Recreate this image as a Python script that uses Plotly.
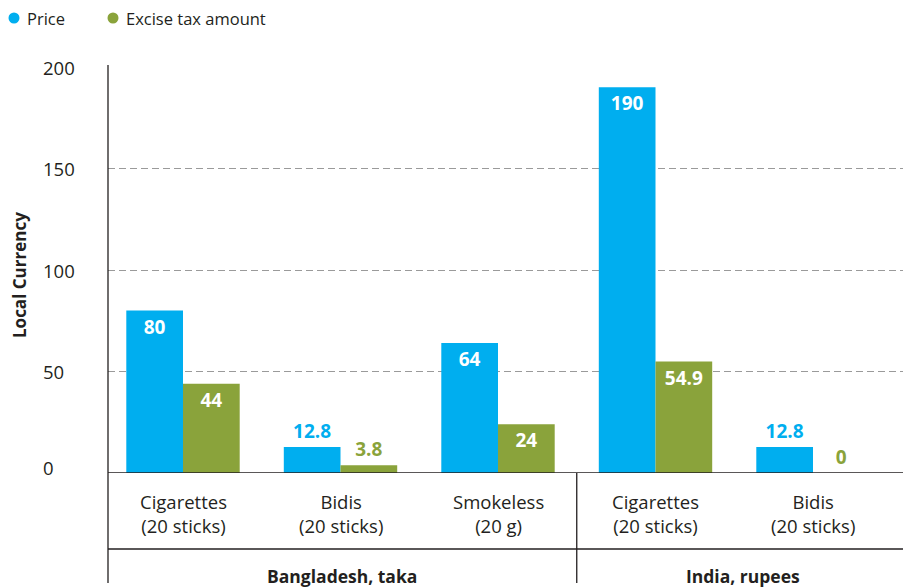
import plotly.graph_objects as go

products = ["Cigarettes<br>(20 sticks)", "Bidis<br>(20 sticks)", "Smokeless<br>(20 g)",
            "Cigarettes<br>(20 sticks)", "Bidis<br>(20 sticks)"]
groups = ["Bangladesh, taka", "India, rupees"]
group_spans = [(0, 2), (3, 4)]
price = [80, 12.8, 64, 190, 12.8]
excise = [44, 3.8, 24, 54.9, 0]
yticks = [0, 50, 100, 150, 200]

BLUE = "#00AEEF"
GREEN = "#8AA33B"
TXT = "#231f20"
FONT = "Open Sans"
OFF = 8  # page body margin
W, H = 911 - OFF, 588 - OFF
L, R, T = 108 - OFF, 0, 67 - OFF
B = H - (473 - OFF)
PW = W - L - R
PH = H - T - B

def fx(pix):  # reference pixel x -> paper
    return (pix - OFF - L) / PW

def fy(pix):  # reference pixel y -> paper
    return (H - B - (pix - OFF)) / PH

xs = list(range(len(products)))

def pos(vals):
    return ["inside" if v >= 20 else "outside" for v in vals]

fig = go.Figure()
for vals, name, col in [(price, "Price", BLUE), (excise, "Excise tax amount", GREEN)]:
    fig.add_trace(go.Bar(
        x=xs, y=vals, name=name, marker_color=col, marker_line_width=0,
        text=[f"{v:g}" for v in vals], textposition=pos(vals),
        insidetextanchor="end", textangle=0,
        insidetextfont=dict(color="white", size=19, family=FONT, weight="bold"),
        outsidetextfont=dict(color=col, size=19, family=FONT, weight="bold"),
        cliponaxis=False, showlegend=False,
    ))

x0 = -(183 - 108) / 157.5
x1 = x0 + PW / 157.5

fig.update_layout(
    width=W, height=H,
    margin=dict(l=L, r=R, t=T, b=B),
    paper_bgcolor="white", plot_bgcolor="white",
    barmode="group", bargap=0.28, bargroupgap=0,
    font=dict(family=FONT, size=16, color=TXT),
    xaxis=dict(range=[x0, x1], showticklabels=False, showgrid=False,
               zeroline=False, showline=False, ticks=""),
    yaxis=dict(range=[0, 200], showticklabels=False, tickvals=yticks,
               showgrid=True, gridcolor="#9a9a9a", griddash="7px,4px", gridwidth=1,
               zeroline=False, showline=False, ticks=""),
)

LINE = dict(color=TXT, width=1.3)
shapes = []
shapes.append(dict(type="line", xref="paper", yref="paper", x0=0, x1=0,
                   y0=fy(583), y1=fy(65), line=LINE))
shapes.append(dict(type="line", xref="paper", yref="y", x0=0, x1=1,
                   y0=0, y1=0, line=LINE))
shapes.append(dict(type="line", xref="paper", yref="paper", x0=0, x1=1,
                   y0=fy(549), y1=fy(549), line=LINE))
for a, b in group_spans[:-1]:
    shapes.append(dict(type="line", xref="x", yref="paper", x0=b + 0.5, x1=b + 0.5,
                       y0=fy(583), y1=0, line=LINE))
for cx, col in [(14, BLUE), (113, GREEN)]:
    shapes.append(dict(type="circle", xref="paper", yref="paper",
                       xsizemode="pixel", ysizemode="pixel",
                       xanchor=fx(cx), yanchor=fy(18),
                       x0=-5.5, x1=5.5, y0=-5.5, y1=5.5,
                       fillcolor=col, line=dict(width=0)))

ann = []
for txt, x in [("Price", 25), ("Excise tax amount", 124)]:
    ann.append(dict(text=txt, xref="paper", yref="paper", x=fx(x), y=fy(18),
                    xanchor="left", yanchor="middle", showarrow=False,
                    font=dict(size=16.5, family=FONT, color=TXT)))
for v in yticks:
    ann.append(dict(text=str(v), xref="paper", yref="y", x=fx(41), y=v,
                    xanchor="left", yanchor="middle", showarrow=False,
                    yshift=6 if v == 0 else 0,
                    font=dict(size=18.5, family=FONT, color=TXT)))
ann.append(dict(text="<b>Local Currency</b>", xref="paper", yref="paper",
                x=fx(19), y=fy(275), textangle=-90, showarrow=False,
                xanchor="center", yanchor="middle",
                font=dict(size=17, family=FONT, color=TXT)))
for i, p in enumerate(products):
    ann.append(dict(text=p, xref="x", yref="paper", x=i, y=fy(513),
                    xanchor="center", yanchor="middle", showarrow=False,
                    font=dict(size=18.5, family=FONT, color=TXT)))
gx = [(108, 575.5), (575.5, 911)]
for g, (a, b) in zip(groups, gx):
    ann.append(dict(text=f"<b>{g}</b>", xref="paper", yref="paper",
                    x=fx((a + b) / 2), y=fy(576),
                    xanchor="center", yanchor="middle", showarrow=False,
                    font=dict(size=17.5, family=FONT, color=TXT)))

fig.update_layout(shapes=shapes, annotations=ann)
fig.write_html("out.html")
